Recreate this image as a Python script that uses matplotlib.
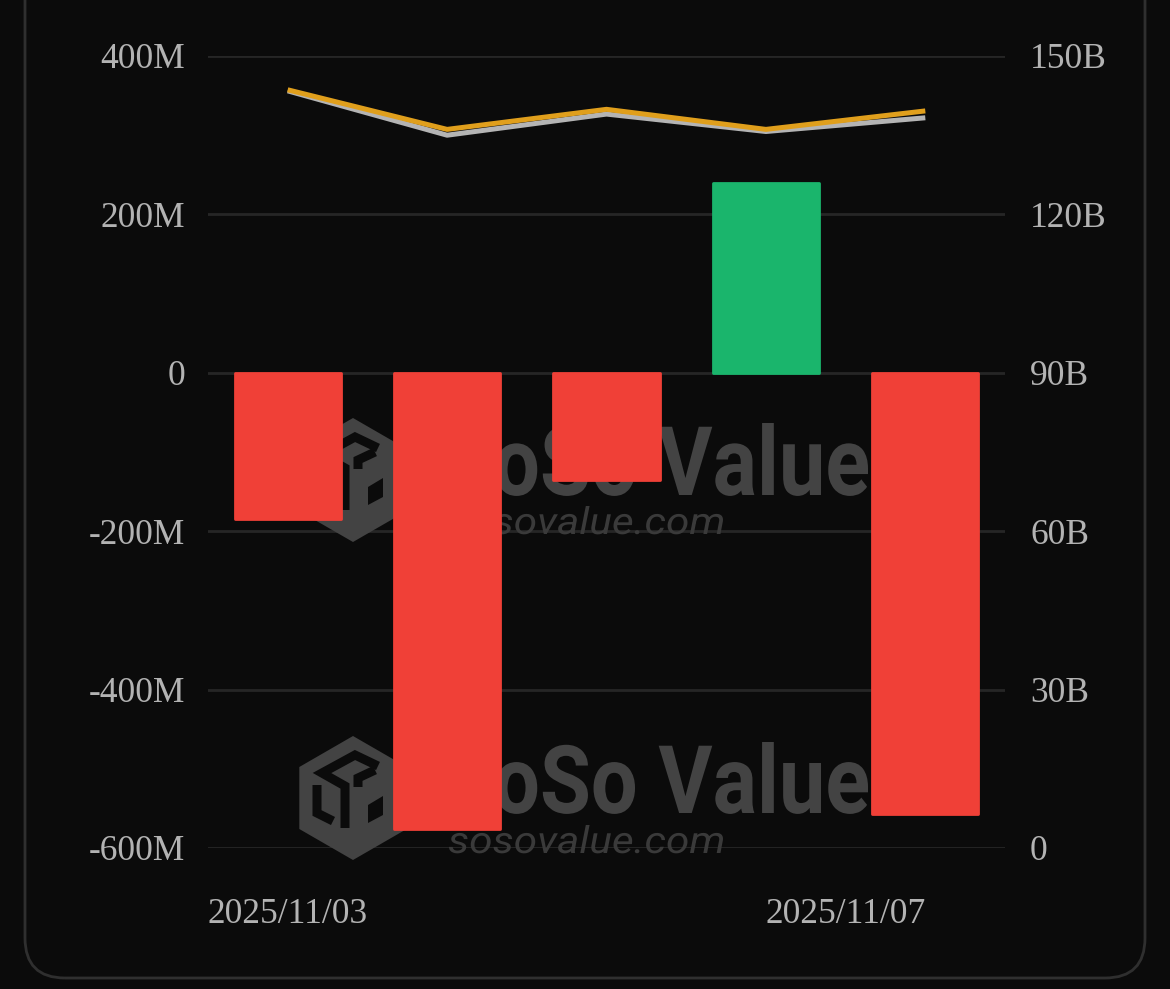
import matplotlib
matplotlib.use("Agg")
import matplotlib.pyplot as plt
from matplotlib.patches import FancyBboxPatch, Polygon, PathPatch
from matplotlib.lines import Line2D
from matplotlib.textpath import TextPath
from matplotlib.font_manager import FontProperties
from matplotlib.transforms import Affine2D
import numpy as np

# ---------------- data ----------------
dates = ["2025/11/03", "2025/11/04", "2025/11/05", "2025/11/06", "2025/11/07"]
net_inflow_m = [-184, -576, -135, 240, -557]          # millions USD (left axis)
total_assets_b = [143.6, 136.1, 139.9, 136.1, 139.6]  # billions USD (orange, right axis)
total_value_b = [143.4, 135.0, 139.0, 135.7, 138.3]   # billions USD (gray, right axis)
left_ticks = [-600, -400, -200, 0, 200, 400]
left_labels = ["-600M", "-400M", "-200M", "0", "200M", "400M"]
right_ticks = [0, 30, 60, 90, 120, 150]
right_labels = ["0", "30B", "60B", "90B", "120B", "150B"]
shown_dates = [0, 4]

BG = "#0b0b0b"
RED = "#f04037"
GREEN = "#1ab56c"
ORANGE = "#e09f1c"
GRAY_LINE = "#b4b4b4"
LABEL = "#b3b3b3"
GRID = "#262626"
WM = "#434343"
W, H = 1170, 989

fig = plt.figure(figsize=(W / 100, H / 100), dpi=100, facecolor=BG)

def fx(x):
    return np.asarray(x, dtype=float) / W

def fy(y):
    return 1 - np.asarray(y, dtype=float) / H

# outer rounded frame (in inches, isotropic)
frame = FancyBboxPatch((25 / 100, 11 / 100), (1145 - 25) / 100, 12.0,
                       boxstyle="round,pad=0,rounding_size=0.4",
                       transform=fig.dpi_scale_trans, facecolor="none",
                       edgecolor="#2f2f2f", linewidth=2.0)
fig.patches.append(frame)

ax = fig.add_axes([208 / W, 1 - 848 / H, (1005 - 208) / W, (848 - 56) / H])
ax.set_facecolor("none")
ax.set_xlim(-0.5, 4.5)
ax.set_ylim(-600, 400)
ax.set_yticks(left_ticks)
ax.set_yticklabels(left_labels)
ax.grid(axis="y", color=GRID, linewidth=2.0, zorder=0)
ax.set_axisbelow(True)
for s in ax.spines.values():
    s.set_visible(False)

x = np.arange(len(dates))
colors = [GREEN if v >= 0 else RED for v in net_inflow_m]
ax.bar(x, net_inflow_m, width=0.665, color=colors, edgecolor=colors,
       linewidth=2.0, joinstyle="round", zorder=3)

ax.set_xticks([x[i] for i in shown_dates])
ax.set_xticklabels([dates[i] for i in shown_dates])
ax.tick_params(axis="both", length=0, colors=LABEL, labelsize=25.5)
ax.tick_params(axis="y", pad=16.5)
ax.tick_params(axis="x", pad=36)
for lab in ax.get_xticklabels() + ax.get_yticklabels():
    lab.set_fontfamily("Liberation Serif")
ax.get_xticklabels()[-1].set_horizontalalignment("right")

ax2 = ax.twinx()
ax2.set_ylim(0, 150)
ax2.set_yticks(right_ticks)
ax2.set_yticklabels(right_labels)
ax2.tick_params(axis="y", length=0, colors=LABEL, labelsize=25.5, pad=18)
for lab in ax2.get_yticklabels():
    lab.set_fontfamily("Liberation Serif")
for s in ax2.spines.values():
    s.set_visible(False)
ax2.plot(x, total_value_b, color=GRAY_LINE, linewidth=3.6, zorder=3,
         solid_capstyle="butt")
ax2.plot(x, total_assets_b, color=ORANGE, linewidth=3.6, zorder=4,
         solid_capstyle="butt")

# ---------------- watermarks (behind bars) ----------------
def fitted_text(s, prop, x0, x1, top, base, color):
    tp = TextPath((0, 0), s, size=100, prop=prop)
    ext = tp.get_extents()
    sx = (x1 - x0) / ext.width
    sy = (base - top) / ext.y1
    tr = (Affine2D().translate(-ext.x0, 0).scale(sx, -sy).translate(x0, base)
          .scale(1 / W, -1 / H).translate(0, 1))
    path = tr.transform_path(tp)
    pp = PathPatch(path, facecolor=color, edgecolor="none",
                   transform=fig.transFigure, zorder=1, clip_on=False)
    ax.add_artist(pp)

bold = FontProperties(family="Roboto", weight="bold")
urlfont = FontProperties(family="Roboto", weight="normal", style="italic")

def watermark(cy, text_top, text_base, url_top, url_base):
    cx = 353
    r = 62
    ang = np.deg2rad(90 + 60 * np.arange(6))
    hx = cx + r * np.cos(ang)
    hy = cy - r * np.sin(ang)
    hexa = Polygon(np.column_stack([fx(hx), fy(hy)]), closed=True,
                   facecolor=WM, edgecolor="none",
                   transform=fig.transFigure, zorder=1, clip_on=False)
    ax.add_artist(hexa)
    strokes = [
        [(25, -32), (2, -43), (-31, -25), (-8, -12), (-8, 30)],
        [(-36, -13), (-36, 15), (-20, 23)],
        [(5, -11), (5, -20), (22, -28)],
    ]
    for st in strokes:
        st = np.array(st, dtype=float)
        ln = Line2D(fx(cx + st[:, 0]), fy(cy + st[:, 1]), color=BG, linewidth=6.5,
                    transform=fig.transFigure, zorder=1, solid_joinstyle="miter",
                    solid_capstyle="butt", clip_on=False)
        ax.add_artist(ln)
    dia = np.array([(15, 7), (30, -2), (30, 17), (15, 25)], dtype=float)
    ax.add_artist(Polygon(np.column_stack([fx(cx + dia[:, 0]), fy(cy + dia[:, 1])]),
                          closed=True, facecolor=BG, edgecolor="none",
                          transform=fig.transFigure, zorder=1, clip_on=False))
    fitted_text("SoSo Value", bold, 445, 868, text_top, text_base, WM)
    fitted_text("sosovalue.com", urlfont, 449, 723, url_top, url_base, "#3a3a3a")

watermark(480, 423, 495, 506, 534)
watermark(798, 742, 813, 825, 853)

fig.savefig("out.png", dpi=100, facecolor=BG)
